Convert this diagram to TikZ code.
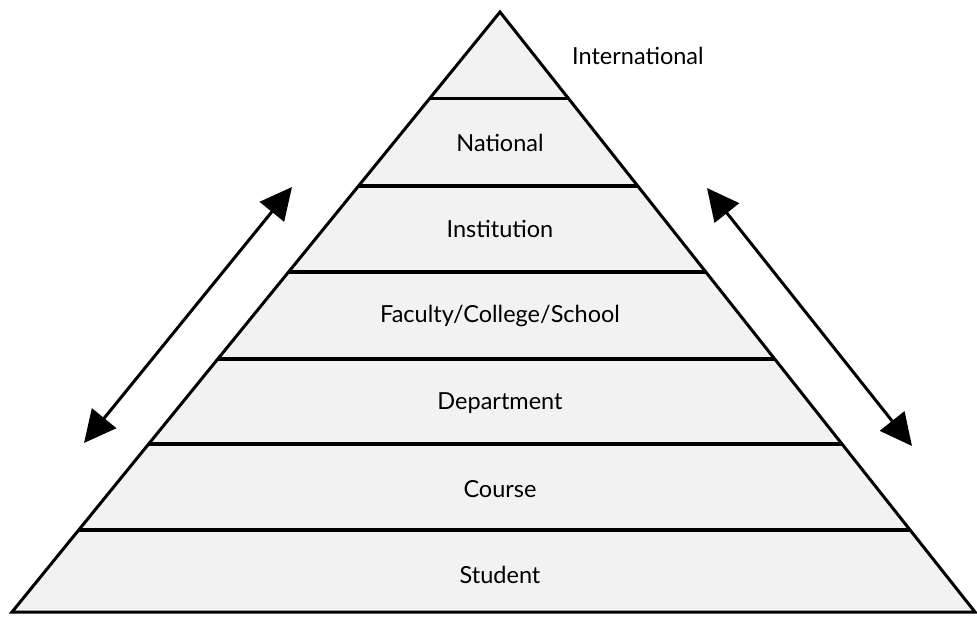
\documentclass[tikz,border=0pt]{standalone}
\usepackage{fontspec}
\setmainfont{Lato}
\usetikzlibrary{calc,arrows.meta}
\begin{document}
\begin{tikzpicture}[x=1pt,y=-1pt,
  edge/.style={line width=3pt,line join=miter},
  level/.style={line width=3.6pt},
  lbl/.style={font=\fontsize{23.5}{26}\selectfont,inner sep=0pt},
  dbl/.style={line width=3pt,{Triangle[length=32pt,width=31pt]}-{Triangle[length=32pt,width=31pt]}}]
\useasboundingbox (0,0) rectangle (977,616);
\coordinate (A) at (500,12);
\coordinate (L) at (12,612);
\coordinate (R) at (975,612);
\fill[black!5] (A) -- (L) -- (R) -- cycle;
\foreach \t in {0.144,0.29,0.433,0.578,0.72,0.863}{
  \draw[level] ($(A)!\t!(L)$) -- ($(A)!\t!(R)$);
}
\draw[edge] (A) -- (L) -- (R) -- cycle;
\node[lbl,anchor=west] (intl) at (572,56) {International};
\node[lbl] (nat) at (500,143) {National};
\node[lbl] (inst) at (500,229) {Institution};
\node[lbl] (fac) at (500,316) {Faculty/College/School};
\node[lbl] (dep) at (500,403) {Department};
\node[lbl] (cou) at (500,489) {Course};
\node[lbl] (stu) at (500,575) {Student};
\coordinate (la) at (292,187);
\coordinate (lb) at (84,443);
\coordinate (ra) at (707,188);
\coordinate (rb) at (912,446);
\draw[dbl] (la) -- (lb);
\draw[dbl] (ra) -- (rb);
\end{tikzpicture}
\end{document}
